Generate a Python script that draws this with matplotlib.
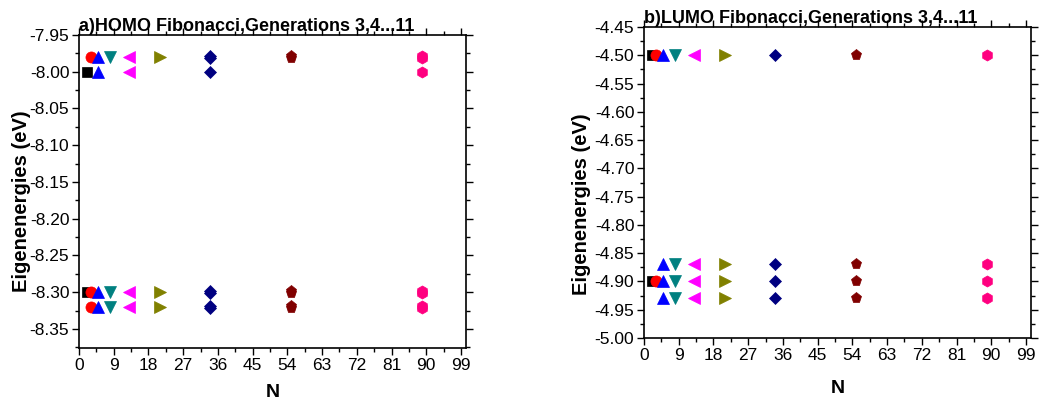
import matplotlib
matplotlib.use('Agg')
import matplotlib.pyplot as plt
from matplotlib.ticker import MultipleLocator, FormatStrFormatter

plt.rcParams['font.family'] = ['Liberation Sans', 'DejaVu Sans']

# N = number of sites for generations 3..11
gen_n = [2, 3, 5, 8, 13, 21, 34, 55, 89]
colors = ['black', 'red', 'blue', '#008080', '#FF00FF', '#808000', '#000080', '#800000', '#FF0080']
markers = ['s', 'o', '^', 'v', '<', '>', 'D', 'p', 'h']

homo = [
    [-8.00, -8.30],
    [-7.98, -8.30, -8.32],
    [-7.98, -8.00, -8.30, -8.32],
    [-7.98, -8.30, -8.32],
    [-7.98, -8.00, -8.30, -8.32],
    [-7.98, -8.30, -8.32],
    [-7.979, -7.981, -8.00, -8.299, -8.301, -8.319, -8.321],
    [-7.979, -7.981, -8.299, -8.301, -8.319, -8.321],
    [-7.979, -7.981, -8.00, -8.299, -8.301, -8.319, -8.321],
]
lumo = [
    [-4.50, -4.90],
    [-4.50, -4.90],
    [-4.50, -4.87, -4.90, -4.93],
    [-4.50, -4.87, -4.90, -4.93],
    [-4.50, -4.87, -4.90, -4.93],
    [-4.50, -4.87, -4.90, -4.93],
    [-4.50, -4.87, -4.90, -4.93],
    [-4.50, -4.87, -4.90, -4.93],
    [-4.50, -4.87, -4.90, -4.93],
]

fig = plt.figure(figsize=(10.39, 4.01), dpi=100)
ax1 = fig.add_axes([79/1039, 1 - 348/401, 387/1039, 313/401])
ax2 = fig.add_axes([644/1039, 1 - 338/401, 387/1039, 311/401])


def draw(ax, data, title, ylim, ylab_pos, xlab_y):
    for n, vals, c, m in zip(gen_n, data, colors, markers):
        ms = 6.5 if m in ('s', 'D') else 8
        ax.plot([n] * len(vals), vals, linestyle='none', marker=m, color=c,
                markersize=ms, markeredgewidth=0.5)
    ax.set_xlim(0, 100.3)
    ax.set_ylim(*ylim)
    ax.xaxis.set_major_locator(MultipleLocator(9))
    ax.xaxis.set_minor_locator(MultipleLocator(4.5))
    ax.yaxis.set_major_locator(MultipleLocator(0.05))
    ax.yaxis.set_minor_locator(MultipleLocator(0.025))
    ax.yaxis.set_major_formatter(FormatStrFormatter('%.2f'))
    ax.tick_params(which='both', direction='out', labelsize=12.5, width=1)
    ax.tick_params(which='major', length=5, pad=2)
    ax.tick_params(which='minor', length=3)
    ax.tick_params(which='both', top=True, right=True)
    for s in ax.spines.values():
        s.set_linewidth(1.2)
    ax.set_xlabel('N', fontsize=14, fontweight='bold')
    ax.xaxis.set_label_coords(0.5, xlab_y)
    ax.set_ylabel('Eigenenergies (eV)', fontsize=14.5, fontweight='bold')
    ax.yaxis.set_label_coords(*ylab_pos)
    ax.set_title(title, fontsize=13, fontweight='bold', loc='left', pad=3)


draw(ax1, homo, 'a)HOMO Fibonacci,Generations 3,4...11', (-8.376, -7.95),
     (-0.125, 0.47), -0.115)
draw(ax2, lumo, 'b)LUMO Fibonacci,Generations 3,4...11', (-5.00, -4.45),
     (-0.137, 0.43), -0.135)

fig.savefig('out.png', dpi=100)
